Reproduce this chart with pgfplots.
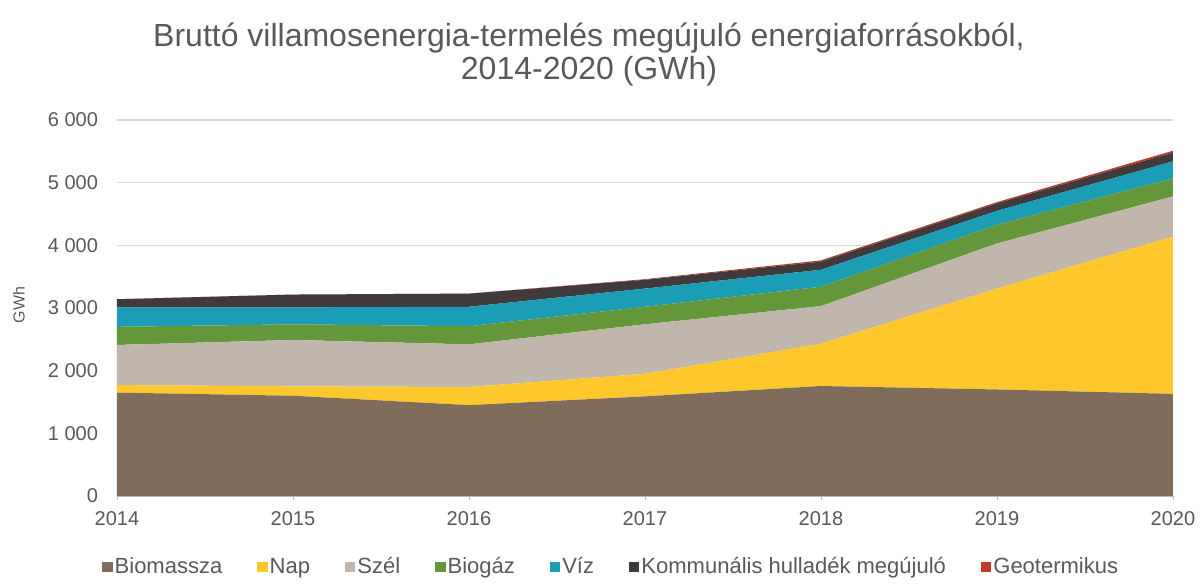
\documentclass[border=0pt]{standalone}
\usepackage{fontspec}
\setmainfont{Liberation Sans}
\usepackage{pgfplots}
\pgfplotsset{compat=1.18}
\usepackage{pgfplotstable}
\definecolor{cbio}{HTML}{7F6C5A}
\definecolor{cnap}{HTML}{FEC72C}
\definecolor{cszel}{HTML}{C0B6AC}
\definecolor{cbiogaz}{HTML}{64963A}
\definecolor{cviz}{HTML}{1A9DB5}
\definecolor{ckomm}{HTML}{403A3C}
\definecolor{cgeo}{HTML}{C0392B}
\definecolor{ctxt}{HTML}{595959}
\pgfplotstableread{
year bio nap szel biogaz viz komm geo
2014 1650 120 640 290 310 130 0
2015 1600 150 740 250 270 205 0
2016 1450 290 680 290 310 210 0
2017 1590 360 790 280 290 140 10
2018 1755 675 600 310 270 130 20
2019 1700 1610 720 300 220 120 20
2020 1630 2510 640 290 270 140 30
}\data
\begin{document}
\begin{tikzpicture}
\useasboundingbox (-58.5pt,-44.5pt) rectangle (542pt,248pt);
\node[align=center, font=\fontsize{16}{16.5}\selectfont, text=ctxt] at (236pt,220.5pt)
  {Bruttó villamosenergia-termelés megújuló energiaforrásokból,\\2014-2020 (GWh)};
\begin{axis}[
  at={(0,0)}, anchor=south west,
  scale only axis, width=528pt, height=188pt,
  xmin=2014, xmax=2020, ymin=0, ymax=6000,
  stack plots=y,
  axis x line*=bottom, axis y line*=left,
  y axis line style={draw=none},
  x axis line style={draw=black!25},
  xtick={2014,2015,2016,2017,2018,2019,2020},
  xticklabels={2014,2015,2016,2017,2018,2019,2020},
  ytick={0,1000,2000,3000,4000,5000,6000},
  yticklabels={0,1 000,2 000,3 000,4 000,5 000,6 000},
  ymajorgrids, grid style={draw=black!15, line width=0.6pt},
  ytick style={draw=none},
  xtick style={draw=black!25},
  tick align=outside, major tick length=2pt,
  tick label style={font=\fontsize{10}{12}\selectfont, text=ctxt},
  yticklabel style={xshift=-4pt},
  xticklabel style={yshift=-2pt},
  ylabel={GWh},
  ylabel style={at={(axis description cs:-0.0928,0.508)}, anchor=center, font=\fontsize{8}{10}\selectfont, text=ctxt},
  legend columns=7,
  legend style={at={(0.468,-0.189)}, anchor=center, draw=none, fill=none,
    font=\fontsize{11}{12}\selectfont, text=ctxt,
    /tikz/every even column/.append style={column sep=16.5pt},
    nodes={inner xsep=1pt, inner ysep=1pt}},
  legend image code/.code={\fill[#1] (0pt,-2.6pt) rectangle (5.2pt,2.6pt);},
  legend cell align=left,
]
\addplot[fill=cbio, draw=none] table[x=year, y=bio] {\data} \closedcycle;
\addlegendentry{Biomassza}
\addplot[fill=cnap, draw=none] table[x=year, y=nap] {\data} \closedcycle;
\addlegendentry{Nap}
\addplot[fill=cszel, draw=none] table[x=year, y=szel] {\data} \closedcycle;
\addlegendentry{Szél}
\addplot[fill=cbiogaz, draw=none] table[x=year, y=biogaz] {\data} \closedcycle;
\addlegendentry{Biogáz}
\addplot[fill=cviz, draw=none] table[x=year, y=viz] {\data} \closedcycle;
\addlegendentry{Víz}
\addplot[fill=ckomm, draw=none] table[x=year, y=komm] {\data} \closedcycle;
\addlegendentry{Kommunális hulladék megújuló}
\addplot[fill=cgeo, draw=none] table[x=year, y=geo] {\data} \closedcycle;
\addlegendentry{Geotermikus}
\end{axis}
\end{tikzpicture}
\end{document}
